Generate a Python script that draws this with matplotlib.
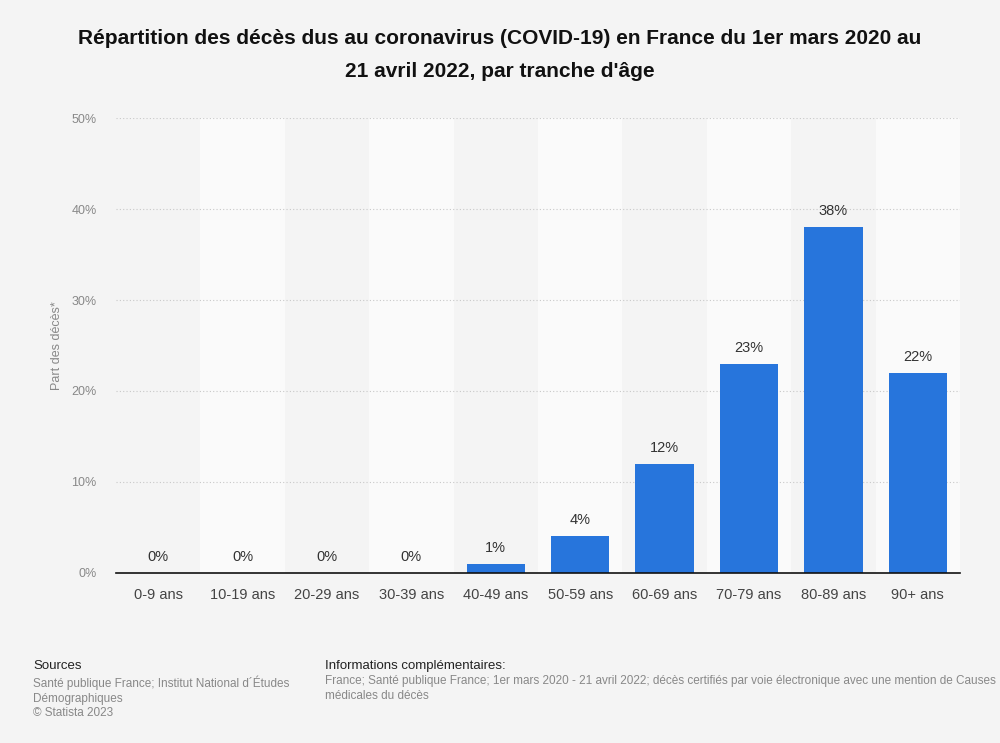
import matplotlib.pyplot as plt
from matplotlib.ticker import FuncFormatter

categories = ["0-9 ans", "10-19 ans", "20-29 ans", "30-39 ans", "40-49 ans",
              "50-59 ans", "60-69 ans", "70-79 ans", "80-89 ans", "90+ ans"]
values = [0, 0, 0, 0, 1, 4, 12, 23, 38, 22]
y_ticks = [0, 10, 20, 30, 40, 50]

plt.rcParams['font.family'] = ['Liberation Sans', 'DejaVu Sans']

fig = plt.figure(figsize=(10, 7.43), dpi=100, facecolor='#f4f4f4')
ax = fig.add_axes([0.116, 0.229, 0.844, 0.612])
ax.set_facecolor('#f4f4f4')

x = list(range(len(categories)))
# lighter bands on every second column
for i in x:
    if i % 2 == 1:
        ax.axvspan(i - 0.5, i + 0.5, color='#fafafa', zorder=0, lw=0)

for t in y_ticks[1:]:
    ax.axhline(t, color='#c8c8c8', lw=0.8, ls=(0, (1, 2)), zorder=1)

bars = ax.bar(x, values, width=0.69, color='#2775dc', zorder=2)
for xi, v in zip(x, values):
    ax.text(xi, v + 1.0, f"{v}%", ha='center', va='bottom', fontsize=10.5, color='#333333')

ax.set_xlim(-0.5, len(categories) - 0.5)
ax.set_ylim(0, 50)
ax.set_yticks(y_ticks)
ax.yaxis.set_major_formatter(FuncFormatter(lambda v, p: f"{int(v)}%"))
ax.set_xticks(x)
ax.set_xticklabels(categories)
ax.tick_params(axis='y', length=0, labelsize=9, labelcolor='#888888', pad=14)
ax.tick_params(axis='x', length=0, labelsize=10.5, labelcolor='#444444', pad=11)
for s in ['top', 'right', 'left']:
    ax.spines[s].set_visible(False)
ax.spines['bottom'].set_color('#111111')
ax.spines['bottom'].set_linewidth(1.2)
ax.set_ylabel("Part des décès*", fontsize=9, color='#888888', labelpad=6)

fig.text(0.5, 0.961, "Répartition des décès dus au coronavirus (COVID-19) en France du 1er mars 2020 au\n21 avril 2022, par tranche d'âge",
         ha='center', va='top', fontsize=15, fontweight='bold', color='#111111', linespacing=1.95)

fig.text(0.033, 0.104, "Sources", fontsize=9.5, color='#222222', va='center')
fig.text(0.033, 0.091, "Santé publique France; Institut National d´Études\nDémographiques\n© Statista 2023",
         fontsize=8.5, color='#888888', va='top', linespacing=1.3)
fig.text(0.325, 0.104, "Informations complémentaires:", fontsize=9.5, color='#222222', va='center')
fig.text(0.325, 0.091, "France; Santé publique France; 1er mars 2020 - 21 avril 2022; décès certifiés par voie électronique avec une mention de Causes\nmédicales du décès",
         fontsize=8.5, color='#888888', va='top', linespacing=1.3)

fig.savefig("out.png", dpi=100, facecolor=fig.get_facecolor())
